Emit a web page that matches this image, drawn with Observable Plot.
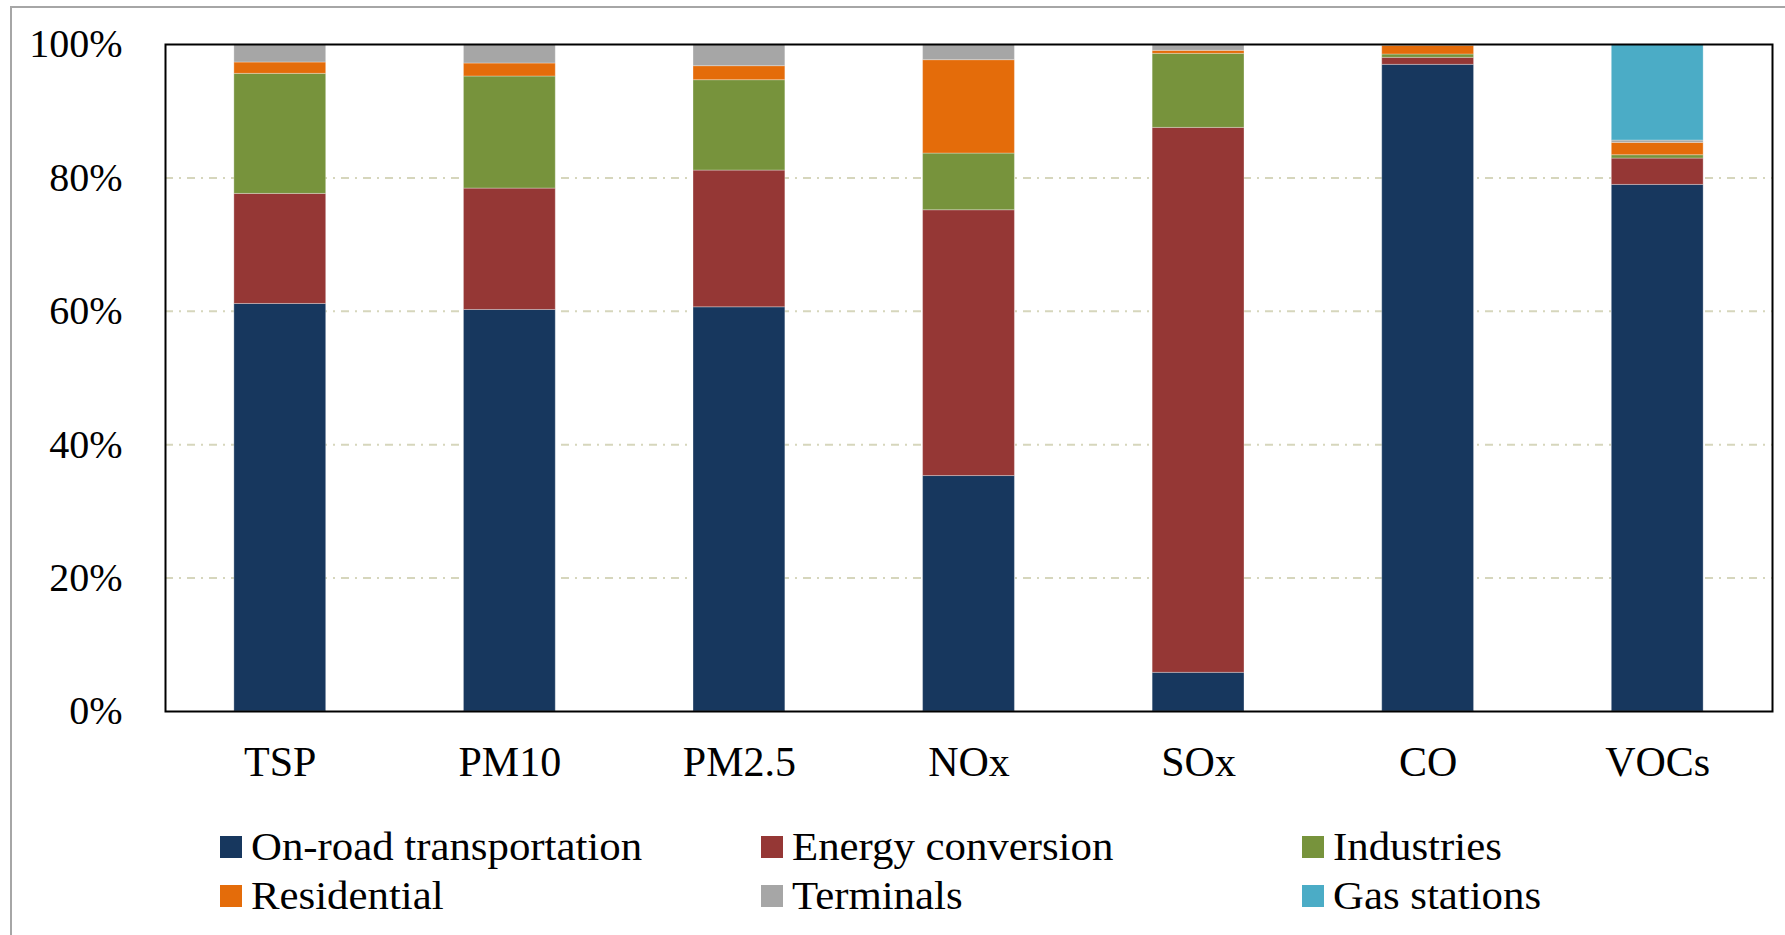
<!DOCTYPE html>
<html>
<head>
<meta charset="utf-8">
<script src="https://cdn.jsdelivr.net/npm/d3@7"></script>
<script src="https://cdn.jsdelivr.net/npm/@observablehq/plot@0.6"></script>
<style>
  html, body { margin: 0; padding: 0; background: #fff; overflow: hidden; }
  body { width: 1785px; height: 935px; position: relative; font-family: "Liberation Serif", "Times New Roman", serif; }
  #outer { position: absolute; left: 10px; top: 6px; width: 2000px; height: 2000px; border: 2px solid #a6a6a6; box-sizing: border-box; pointer-events: none; }
  #chart { position: absolute; left: 0; top: 0; }
  #legend { position: absolute; left: 220px; top: 822px; display: grid; grid-template-columns: 541px 541px 541px; }
  .item { display: flex; align-items: center; height: 49px; font-size: 40px; color: #000; white-space: nowrap; }
  .item span { display: inline-block; transform: scaleX(1.07); transform-origin: left center; }
  .sw { width: 22px; height: 22px; margin-right: 9px; flex: none; }
</style>
</head>
<body>
<div id="outer"></div>
<div id="chart"></div>
<div id="legend"></div>
<script>
// Pollutants on the x axis
const pollutants = ["TSP", "PM10", "PM2.5", "NOx", "SOx", "CO", "VOCs"];

// Emission sources (stacked bottom to top) and their colours
const sources = ["On-road transportation", "Energy conversion", "Industries", "Residential", "Terminals", "Gas stations"];
const colors = ["#17375e", "#953735", "#77933c", "#e46c0a", "#a6a6a6", "#4bacc6"];

// Share of each pollutant (%) by source
const onRoad      = [61.1, 60.2, 60.6, 35.3, 5.8, 96.95, 78.95];
const energy      = [16.5, 18.2, 20.5, 39.85, 81.7, 1.05, 3.95];
const industries  = [18.0, 16.8, 13.55, 8.5, 11.1, 0.5, 0.5];
const residential = [1.7, 1.95, 2.1, 14.0, 0.45, 1.3, 1.85];
const terminals   = [2.7, 2.85, 3.25, 2.35, 0.95, 0.2, 0.35];
const gasStations = [0, 0, 0, 0, 0, 0, 14.4];

// Y axis ticks
const yTicks = [0, 20, 40, 60, 80, 100];
const gridTicks = [20, 40, 60, 80];

const series = [onRoad, energy, industries, residential, terminals, gasStations];
const rows = [];
series.forEach((vals, i) => {
  vals.forEach((v, j) => rows.push({pollutant: pollutants[j], source: sources[i], share: v}));
});

const font = '"Liberation Serif", "Times New Roman", serif';

const chart = Plot.plot({
  width: 1785,
  height: 800,
  marginTop: 44,
  marginBottom: 89,
  marginLeft: 165,
  marginRight: 13,
  style: {fontFamily: font, color: "#000", background: "transparent"},
  x: {domain: pollutants, paddingInner: 0.6, paddingOuter: 0.3, round: false, label: null},
  y: {domain: [0, 100], label: null},
  color: {domain: sources, range: colors},
  marks: [
    Plot.gridY(gridTicks, {stroke: "#d6d6bc", strokeOpacity: 1, strokeWidth: 2, strokeDasharray: "8,6,2,6"}),
    Plot.barY(rows, {x: "pollutant", y: "share", fill: "source", stroke: "#ffffff", strokeWidth: 1, strokeOpacity: 0.3}),
    Plot.frame({stroke: "#000", strokeWidth: 2}),
    Plot.axisX({tickSize: 0, tickPadding: 35, fontSize: 42, label: null}),
    Plot.axisY({ticks: yTicks, tickSize: 0, tickPadding: 43, fontSize: 40, tickFormat: d => d + "%", label: null})
  ]
});
document.getElementById("chart").appendChild(chart);

// Legend: three columns, two rows
const legend = d3.select("#legend");
sources.forEach((s, i) => {
  const item = legend.append("div").attr("class", "item");
  item.append("div").attr("class", "sw").style("background", colors[i]);
  item.append("span").text(s);
});
</script>
</body>
</html>
